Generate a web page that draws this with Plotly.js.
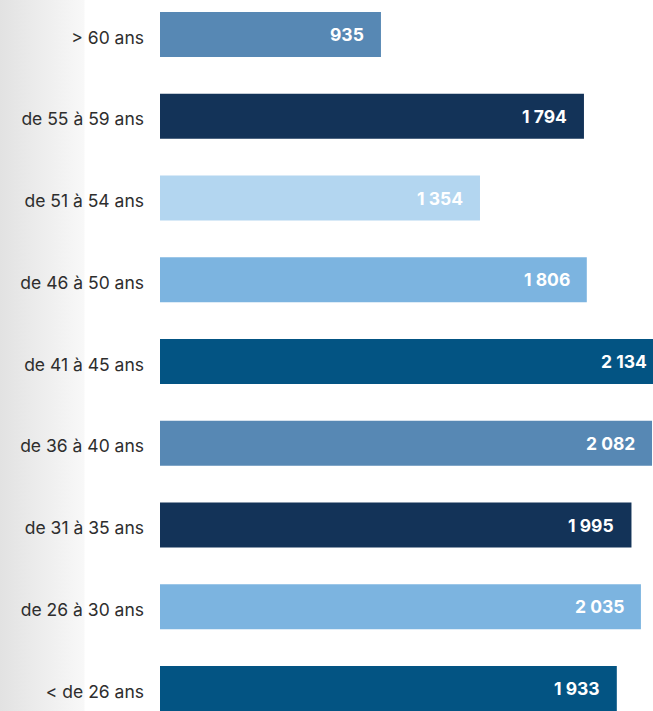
<!DOCTYPE html>
<html>
<head>
<meta charset="utf-8">
<script src="https://cdn.plot.ly/plotly-3.0.1.min.js"></script>
<style>
  html, body { margin: 0; padding: 0; overflow: hidden; width: 653px; height: 711px; background: #ffffff; }
  #wrap { position: relative; width: 700px; height: 711px;
          background: linear-gradient(to right, #e2e2e2 0px, #f8f8f8 84px, #ffffff 85px, #ffffff 100%); }
  #chart { width: 700px; height: 711px; }
</style>
</head>
<body>
<div id="wrap"><div id="chart"></div></div>
<script>
// Age groups, top to bottom
const categories = ["> 60 ans", "de 55 à 59 ans", "de 51 à 54 ans", "de 46 à 50 ans", "de 41 à 45 ans",
                    "de 36 à 40 ans", "de 31 à 35 ans", "de 26 à 30 ans", "< de 26 ans"];
const values = [935, 1794, 1354, 1806, 2134, 2082, 1995, 2035, 1933];
const colors = ["#5788b4", "#133358", "#b3d6f0", "#7cb4e0", "#035483", "#5788b4", "#133358", "#7cb4e0", "#035483"];

function fmt(v) {
  return String(v).replace(/\B(?=(\d{3})+(?!\d))/g, " ");
}

const trace = {
  type: "bar",
  orientation: "h",
  y: categories,
  x: values,
  marker: { color: colors, line: { width: 0 } },
  textposition: "none",
  hoverinfo: "none",
  width: 0.55
};

const annotations = values.map((v, i) => ({
  x: v, y: categories[i], xref: "x", yref: "y",
  text: "<b>" + fmt(v) + "</b>",
  showarrow: false, xanchor: "right", yanchor: "middle",
  xshift: -15, yshift: 0,
  font: { family: "Inter, sans-serif", size: 17.5, color: "#ffffff", weight: 700 }
}));

const layout = {
  width: 700, height: 711,
  margin: { l: 160, r: 0, t: 0, b: 0, pad: 0 },
  paper_bgcolor: "rgba(0,0,0,0)",
  plot_bgcolor: "rgba(0,0,0,0)",
  showlegend: false,
  xaxis: { range: [0, 2285], visible: false, showgrid: false, zeroline: false, fixedrange: true },
  yaxis: {
    type: "category",
    categoryorder: "array", categoryarray: categories,
    range: [8.275, -0.422],
    showgrid: false, zeroline: false, showline: false,
    ticks: "", ticklabelstandoff: 15, ticklabelshift: -3,
    tickfont: { family: "Inter, sans-serif", size: 17.5, color: "#2e2e2e" },
    fixedrange: true
  },
  annotations: annotations
};

Plotly.newPlot("chart", [trace], layout, { displayModeBar: false, staticPlot: true });
</script>
</body>
</html>
